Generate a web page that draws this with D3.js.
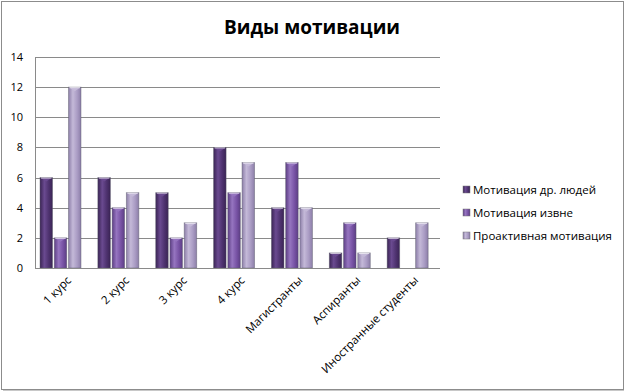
<!DOCTYPE html>
<html lang="ru">
<head>
<meta charset="UTF-8">
<title>Виды мотивации</title>
<script src="https://cdn.jsdelivr.net/npm/d3@7"></script>
<style>
  body { margin: 0; background: #fff; }
  text { font-family: "Open Sans", "Liberation Sans", sans-serif; fill: #000; }
</style>
</head>
<body>
<script>
// data
const categories = ['1 курс', '2 курс', '3 курс', '4 курс', 'Магистранты', 'Аспиранты', 'Иностранные студенты'];
const seriesNames = ['Мотивация др. людей', 'Мотивация извне', 'Проактивная мотивация'];
const othersValues = [6, 6, 5, 8, 4, 1, 2];
const externalValues = [2, 4, 2, 5, 7, 3, 0];
const proactiveValues = [12, 5, 3, 7, 4, 1, 3];
const yTicks = [0, 2, 4, 6, 8, 10, 12, 14];

const seriesValues = [othersValues, externalValues, proactiveValues];
const colors = [
  { base: '#4e326f', dark: '#3a2454', light: '#6a4a90' },
  { base: '#7853a5', dark: '#5c3e84', light: '#9675c0' },
  { base: '#aa9cc4', dark: '#8c7ea8', light: '#c4b9d8' }
];

const width = 625, height = 391;
const margin = { top: 57, left: 35, right: 185, bottom: 123 };
const plotW = width - margin.left - margin.right;
const plotH = height - margin.top - margin.bottom;

const svg = d3.select('body').append('svg')
  .attr('width', width)
  .attr('height', height);

const defs = svg.append('defs');
colors.forEach(function (c, i) {
  const g = defs.append('linearGradient')
    .attr('id', 'bar-grad-' + i)
    .attr('x1', 0).attr('x2', 1).attr('y1', 0).attr('y2', 0);
  g.append('stop').attr('offset', '0%').attr('stop-color', c.dark);
  g.append('stop').attr('offset', '35%').attr('stop-color', c.light);
  g.append('stop').attr('offset', '70%').attr('stop-color', c.base);
  g.append('stop').attr('offset', '100%').attr('stop-color', c.dark);
});

// outer frame with a soft shadow
svg.append('rect')
  .attr('x', 3).attr('y', 3)
  .attr('width', width - 4).attr('height', height - 2)
  .attr('fill', '#c8c8c8');
svg.append('rect')
  .attr('x', 1.5).attr('y', 1.5)
  .attr('width', width - 3).attr('height', height - 3)
  .attr('fill', '#fff')
  .attr('stroke', '#8c8c8c')
  .attr('stroke-width', 1);

svg.append('text')
  .attr('x', 312)
  .attr('y', 34)
  .attr('text-anchor', 'middle')
  .style('font-size', '19px')
  .style('font-weight', 'bold')
  .text('Виды мотивации');

const x0 = d3.scaleBand()
  .domain(categories)
  .range([0, plotW]);

const x1 = d3.scaleBand()
  .domain(d3.range(seriesNames.length))
  .range([5, 46])
  .paddingInner(0.12);

const y = d3.scaleLinear()
  .domain([0, 14])
  .range([plotH, 0]);

const g = svg.append('g')
  .attr('transform', 'translate(' + margin.left + ',' + margin.top + ')');

// gridlines
g.append('g')
  .selectAll('line')
  .data(yTicks)
  .enter()
  .append('line')
  .attr('x1', 0)
  .attr('x2', plotW)
  .attr('y1', function (d) { return Math.round(y(d)) + 0.5; })
  .attr('y2', function (d) { return Math.round(y(d)) + 0.5; })
  .attr('stroke', '#8a8a8a')
  .attr('stroke-width', 1);

// y axis labels
const yAxis = d3.axisLeft(y)
  .tickValues(yTicks)
  .tickSize(0)
  .tickPadding(12);
const yAxisG = g.append('g').call(yAxis);
yAxisG.select('.domain').remove();
yAxisG.selectAll('text')
  .style('font-size', '11px')
  .style('font-family', '"Open Sans", sans-serif')
  .attr('text-anchor', 'end');

// vertical axis line
g.append('line')
  .attr('x1', 0.5).attr('x2', 0.5)
  .attr('y1', 0).attr('y2', plotH)
  .attr('stroke', '#8a8a8a');

// bars
const groups = g.append('g')
  .selectAll('g.group')
  .data(categories)
  .enter()
  .append('g')
  .attr('class', 'group')
  .attr('transform', function (d) { return 'translate(' + x0(d) + ',0)'; });

groups.each(function (cat, ci) {
  const grp = d3.select(this);
  seriesValues.forEach(function (vals, si) {
    const v = vals[ci];
    if (!v) return;
    const bx = x1(si), bw = x1.bandwidth();
    const by = y(v);
    grp.append('rect')
      .attr('x', bx)
      .attr('y', by)
      .attr('width', bw)
      .attr('height', plotH - by)
      .attr('fill', 'url(#bar-grad-' + si + ')')
      .attr('stroke', '#5e5e6e')
      .attr('stroke-opacity', 0.55)
      .attr('stroke-width', 0.8);
    // top cap highlight
    grp.append('path')
      .attr('d', 'M' + (bx + 1) + ',' + (by + 0.5) +
        ' L' + (bx + bw - 1) + ',' + (by + 0.5) +
        ' L' + (bx + bw / 2) + ',' + (by + 4) + ' Z')
      .attr('fill', colors[si].light)
      .attr('opacity', 0.95);
    grp.append('line')
      .attr('x1', bx + 1).attr('x2', bx + bw - 1)
      .attr('y1', by + 0.5).attr('y2', by + 0.5)
      .attr('stroke', '#fff')
      .attr('stroke-opacity', 0.7);
  });
});

// x axis line
g.append('line')
  .attr('x1', 0).attr('x2', plotW)
  .attr('y1', plotH + 0.5).attr('y2', plotH + 0.5)
  .attr('stroke', '#8a8a8a');

// x labels, rotated
g.append('g')
  .selectAll('text')
  .data(categories)
  .enter()
  .append('text')
  .attr('transform', function (d) {
    return 'translate(' + (x0(d) + x0.bandwidth() / 2 + 8) + ',' + (plotH + 13) + ') rotate(-45)';
  })
  .attr('text-anchor', 'end')
  .style('font-size', '11.5px')
  .text(function (d) { return d; });

// legend
const legend = svg.append('g')
  .attr('transform', 'translate(463,190)');
const items = legend.selectAll('g')
  .data(seriesNames)
  .enter()
  .append('g')
  .attr('transform', function (d, i) { return 'translate(0,' + i * 23 + ')'; });
items.append('rect')
  .attr('x', 0).attr('y', -4)
  .attr('width', 7).attr('height', 7)
  .attr('fill', function (d, i) { return 'url(#bar-grad-' + i + ')'; })
  .attr('stroke', '#777')
  .attr('stroke-width', 0.5);
items.append('text')
  .attr('x', 10)
  .attr('y', 4)
  .style('font-size', '11.5px')
  .text(function (d) { return d; });
</script>
</body>
</html>
